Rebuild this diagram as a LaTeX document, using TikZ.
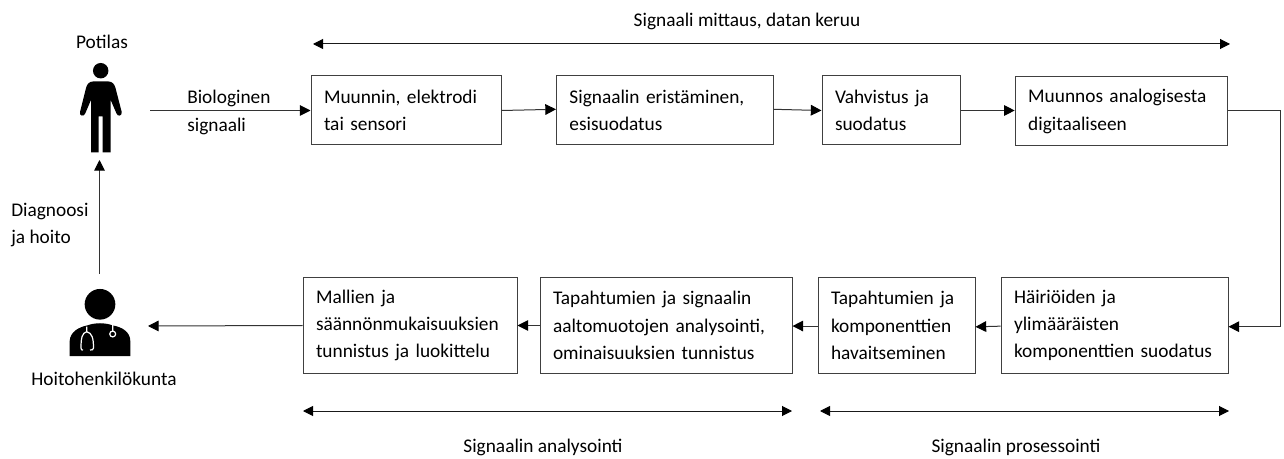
\documentclass[tikz,border=0pt]{standalone}
\usepackage{fontspec}
\setmainfont{Carlito}
\usetikzlibrary{arrows.meta}
\tikzset{
    vaihe/.style = {draw=black!75,line width=0.75pt,align=left,inner xsep=9.75pt,inner ysep=0pt,anchor=center,
        font=\fontsize{14.5}{20.4}\selectfont},
    teksti/.style = {align=left,inner sep=0pt,font=\fontsize{14.5}{20.4}\selectfont},
    arrow/.style = {draw=black!80,line width=0.75pt,-{Triangle[length=8pt,width=8pt,black]}},
    jakso/.style = {draw=black!90,line width=0.75pt,{Triangle[length=7.5pt,width=7.5pt,black]}-{Triangle[length=7.5pt,width=7.5pt,black]}}
}
\begin{document}
\begin{tikzpicture}[x=0.75pt,y=-0.75pt]
    \useasboundingbox (0,0) rectangle (1284,459);

    \node[vaihe,text width=123pt,minimum height=51.75pt] (muunnin) at (406,110.5)
        {Muunnin, elektrodi\\tai sensori};
    \node[vaihe,text width=142.9pt,minimum height=51.75pt] (eristys) at (664.75,110.5)
        {Signaalin eristäminen,\\esisuodatus};
    \node[vaihe,text width=84pt,minimum height=51.75pt] (vahvistus) at (891,110.5)
        {Vahvistus ja\\suodatus};
    \node[vaihe,text width=140pt,minimum height=51.75pt] (muunnos) at (1121.5,111.5)
        {Muunnos analogisesta\\digitaaliseen};

    \node[vaihe,text width=150.75pt,minimum height=71.5pt] (hairiot) at (1114.5,325.5)
        {Häiriöiden ja\\ylimääräisten\\komponenttien suodatus};
    \node[vaihe,text width=98.25pt,minimum height=71.5pt] (havainto) at (896.5,325.5)
        {Tapahtumien ja\\komponenttien\\havaitseminen};
    \node[vaihe,text width=169.5pt,minimum height=71.5pt] (analyysi) at (666,325.5)
        {Tapahtumien ja signaalin\\aaltomuotojen analysointi,\\ominaisuuksien tunnistus};
    \node[vaihe,text width=141pt,minimum height=71.5pt] (mallit) at (410,325.5)
        {Mallien ja\\säännönmukaisuuksien\\tunnistus ja luokittelu};

    \node[teksti] (mittaus) at (747,21) {Signaali mittaus, datan keruu};
    \node[teksti] (analysointi) at (543,447) {Signaalin analysointi};
    \node[teksti] (prosessointi) at (1016,447) {Signaalin prosessointi};
    \node[teksti] (potilas) at (102,42) {Potilas};
    \node[teksti] (hoitajat) at (104,379) {Hoitohenkilökunta};
    \node[teksti,anchor=west] (biosignaali) at (187,112.5) {Biologinen\\signaali};
    \node[teksti,anchor=west] (diagnoosi) at (11,225) {Diagnoosi\\ja hoito};

    \coordinate (potilasulos) at (150,110.5);
    \coordinate (potilassisaan) at (99.5,160);
    \coordinate (hoitajaulos) at (99.5,274);
    \coordinate (hoitajasisaan) at (148,326);
    \coordinate (mittausvasen) at (313,44);
    \coordinate (mittausoikea) at (1230,44);
    \coordinate (analyysivasen) at (303,411);
    \coordinate (analyysioikea) at (792,411);
    \coordinate (prosessivasen) at (820,411);
    \coordinate (prosessioikea) at (1229,411);

    \draw[arrow] (potilasulos) -- (muunnin.west);
    \draw[arrow] (muunnin.east) -- ([yshift=0.9pt]eristys.west);
    \draw[arrow] ([yshift=0.9pt]eristys.east) -- (vahvistus.west);
    \draw[arrow] (vahvistus.east) -- ([yshift=0.75pt]muunnos.west);
    \draw[arrow] ([yshift=0.5pt]muunnos.east) -- ++(52,0) |- ([yshift=-0.9pt]hairiot.east);
    \draw[arrow] ([yshift=-0.5pt]hairiot.west) -- ([yshift=-1pt]havainto.east);
    \draw[arrow] ([yshift=-0.4pt]havainto.west) -- ([yshift=-0.4pt]analyysi.east);
    \draw[arrow] (analyysi.west) -- (mallit.east);
    \draw[arrow] (mallit.west) -- (hoitajasisaan);
    \draw[arrow] (hoitajaulos) -- (potilassisaan);

    \draw[jakso] (mittausvasen) -- (mittausoikea);
    \draw[jakso] (analyysivasen) -- (analyysioikea);
    \draw[jakso] (prosessivasen) -- (prosessioikea);

    \fill (100.7,70.7) circle (5.8pt);
    \fill (93,81.5) -- (108.5,81.5) .. controls (112,81.5) and (114.5,84) .. (115.5,88)
        -- (121.7,112) .. controls (122.5,116) and (117.5,117) .. (116.5,113.5)
        -- (110.7,100) -- (110.7,152.3) -- (102.5,152.3) -- (102.5,116.3) -- (98.5,116.3) -- (98.5,152.3)
        -- (91,152.3) -- (91,100) -- (85.2,113.5) .. controls (84,117) and (79,116) .. (80,112)
        -- (86,88) .. controls (87,84) and (89.5,81.5) .. (93,81.5) -- cycle;

    \fill (100,304.3) circle (11.5pt);
    \fill (69.7,356) -- (69.7,341) .. controls (70,332) and (79,327) .. (87,325.5)
        .. controls (95,322.5) and (105,322.5) .. (113,325.5)
        .. controls (122,327) and (130.3,332) .. (130.3,341) -- (130.3,356) -- cycle;
    \draw[white,line width=0.9pt] (86.7,326.7) -- (86.7,331.7) .. controls (82,333) and (81,338) .. (81,348)
        .. controls (81,350) and (82,350) .. (83,350)
        (86.7,331.7) .. controls (92,333) and (93.5,338) .. (93.5,348)
        .. controls (93.5,350) and (92,350) .. (90,350);
    \draw[white,line width=0.9pt] (112.7,324.3) -- (112.7,331) (112.7,334) circle (2.2pt);
\end{tikzpicture}
\end{document}
